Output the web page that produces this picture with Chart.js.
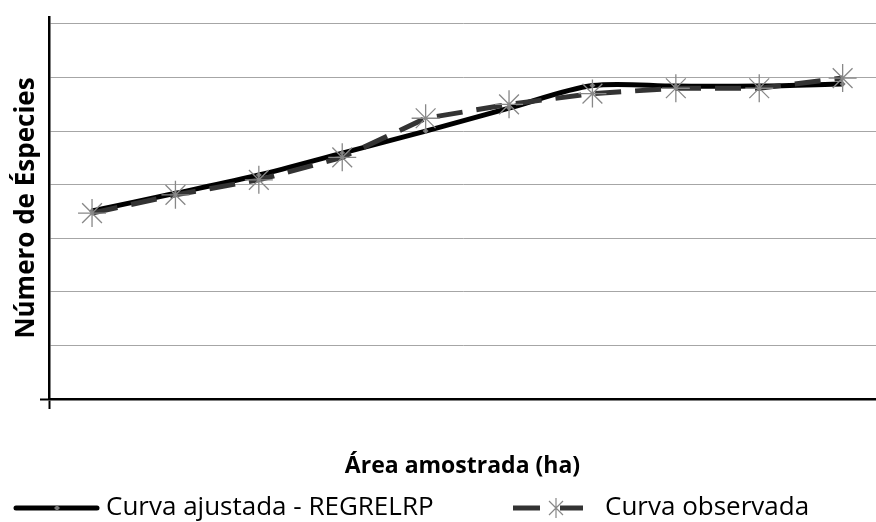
<!DOCTYPE html>
<html>
<head>
<meta charset="utf-8">
<script src="https://cdn.jsdelivr.net/npm/chart.js@4.4.1/dist/chart.umd.min.js"></script>
<style>
  html, body { margin: 0; padding: 0; background: #fff; }
  #wrap { width: 876px; height: 522px; }
</style>
</head>
<body>
<div id="wrap"><canvas id="chart"></canvas></div>
<script>
// ====== DATA ======
const areaSteps = [1, 2, 3, 4, 5, 6, 7, 8, 9, 10];
const fittedCurve = [35.1, 38.4, 41.8, 45.9, 50.0, 54.3, 58.5, 58.4, 58.4, 58.8];
const observedCurve = [34.7, 38.1, 40.9, 45.1, 52.4, 55.0, 57.0, 58.0, 58.0, 59.9];
const yTicks = [0, 10, 20, 30, 40, 50, 60, 70];
const X_MIN = 0.484;
const X_MAX = 10.4;

const legendNames = ["Curva ajustada - REGRELRP", "Curva observada"];
const FONT = "'Open Sans', 'Noto Sans', sans-serif";

function toPoints(values) {
    return areaSteps.map((x, i) => ({ x: x, y: values[i] }));
}

// ====== LEGENDA (desenhada à mão, embaixo) ======
const bottomLegend = {
    id: "bottomLegend",
    afterDraw(chart) {
        const ctx = chart.ctx;
        const y = 508;
        ctx.save();

        // curva ajustada
        ctx.strokeStyle = "#000";
        ctx.lineWidth = 5;
        ctx.lineCap = "round";
        ctx.beginPath();
        ctx.moveTo(16, y);
        ctx.lineTo(97, y);
        ctx.stroke();
        ctx.fillStyle = "#777";
        ctx.beginPath();
        ctx.moveTo(57, y - 3); ctx.lineTo(60, y); ctx.lineTo(57, y + 3); ctx.lineTo(54, y);
        ctx.closePath();
        ctx.fill();

        // curva observada
        ctx.strokeStyle = "#333";
        ctx.lineCap = "butt";
        ctx.beginPath();
        ctx.moveTo(513, y); ctx.lineTo(540, y);
        ctx.moveTo(560, y); ctx.lineTo(583, y);
        ctx.stroke();
        ctx.strokeStyle = "#888";
        ctx.lineWidth = 1.2;
        const r = 10;
        ctx.beginPath();
        ctx.moveTo(556, y - r); ctx.lineTo(556, y + r);
        ctx.moveTo(556 - r * 0.7, y - r * 0.7); ctx.lineTo(556 + r * 0.7, y + r * 0.7);
        ctx.moveTo(556 - r * 0.7, y + r * 0.7); ctx.lineTo(556 + r * 0.7, y - r * 0.7);
        ctx.stroke();

        ctx.fillStyle = "#000";
        ctx.font = "26px " + FONT;
        ctx.textBaseline = "middle";
        ctx.fillText(legendNames[0], 106, y);
        ctx.fillText(legendNames[1], 605, y);
        ctx.restore();
    }
};

const ctx = document.getElementById("chart").getContext("2d");
new Chart(ctx, {
    type: "line",
    data: {
        datasets: [
            {
                label: legendNames[0],
                data: toPoints(fittedCurve),
                borderColor: "#000",
                borderWidth: 5,
                tension: 0.3,
                pointStyle: "rectRot",
                pointRadius: 3,
                pointBackgroundColor: "#777",
                pointBorderColor: "#777",
                pointBorderWidth: 0,
                order: 2
            },
            {
                label: legendNames[1],
                data: toPoints(observedCurve),
                borderColor: "#333",
                borderWidth: 5,
                borderDash: [26, 14],
                tension: 0,
                pointStyle: "star",
                pointRadius: 14,
                pointBorderColor: "#888",
                pointBorderWidth: 1.3,
                pointBackgroundColor: "#888",
                order: 1
            }
        ]
    },
    options: {
        responsive: true,
        maintainAspectRatio: false,
        animation: false,
        layout: { autoPadding: false, padding: { top: 17, right: 0, left: 0, bottom: 0 } },
        plugins: {
            legend: { display: false },
            tooltip: { enabled: false }
        },
        scales: {
            x: {
                type: "linear",
                min: X_MIN,
                max: X_MAX,
                afterBuildTicks: s => { s.ticks = [{ value: X_MIN }]; },
                grid: {
                    display: true,
                    drawOnChartArea: false,
                    drawTicks: true,
                    tickLength: 10,
                    tickColor: "#000",
                    tickWidth: 2
                },
                border: { color: "#000", width: 2.5 },
                ticks: { display: false },
                title: {
                    display: true,
                    text: "Área amostrada (ha)",
                    color: "#000",
                    font: { family: FONT, size: 23, weight: "bold" },
                    padding: { top: 0, bottom: 42 }
                },
                afterFit: s => { s.height = 123; }
            },
            y: {
                min: 0,
                max: 71.3,
                afterBuildTicks: s => { s.ticks = yTicks.map(v => ({ value: v })); },
                grid: {
                    color: "#a6a6a6",
                    lineWidth: 1,
                    drawTicks: true,
                    tickLength: 9,
                    tickWidth: 2,
                    tickColor: c => (c.tick && c.tick.value === 0) ? "#000" : "rgba(0,0,0,0)"
                },
                border: { color: "#000", width: 2.5 },
                ticks: { display: false },
                title: {
                    display: true,
                    text: "Número de Éspecies",
                    color: "#000",
                    font: { family: FONT, size: 26, weight: "bold" },
                    padding: { top: 11, bottom: 0 }
                },
                afterFit: s => { s.width = 49; }
            }
        }
    },
    plugins: [bottomLegend]
});
</script>
</body>
</html>
